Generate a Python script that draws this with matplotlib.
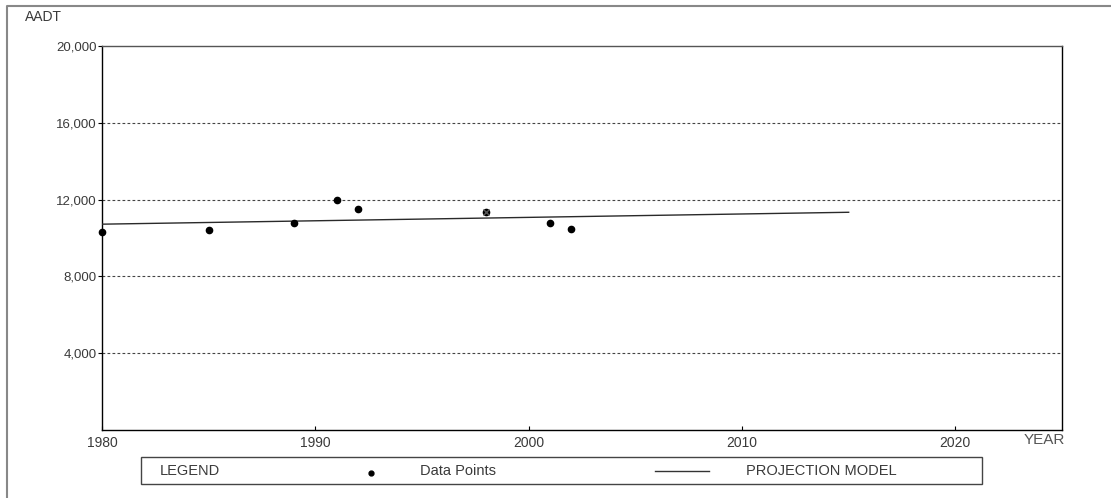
import matplotlib.pyplot as plt
from matplotlib.lines import Line2D
from matplotlib.patches import Rectangle

plt.rcParams['font.family'] = ['Liberation Sans', 'DejaVu Sans']

# observed counts
years = [1980, 1985, 1989, 1991, 1992, 1998, 2001, 2002]
aadt = [10290, 10440, 10800, 12000, 11530, 11370, 10800, 10490]
flagged_years = [1998]
flagged_aadt = [11370]

# projection model end points
proj_years = [1980, 2015]
proj_aadt = [10720, 11340]

y_ticks = [4000, 8000, 12000, 16000, 20000]
y_labels = ['4,000', '8,000', '12,000', '16,000', '20,000']
x_ticks = [1980, 1990, 2000, 2010, 2020]

W, H = 1111, 498
fig = plt.figure(figsize=(W / 100, H / 100), dpi=100)
ax = fig.add_axes([102 / W, 1 - 430 / H, 960 / W, 384 / H])

text_col = '#3a3a3a'

ax.plot(proj_years, proj_aadt, color='#2a2a2a', lw=1.0, zorder=3)
ax.plot(years, aadt, 'o', color='black', ms=4.5, zorder=4, clip_on=False)
ax.plot(flagged_years, flagged_aadt, 'x', color='#555555', ms=5, mew=1, zorder=5)

for yv in y_ticks[:-1]:
    ax.axhline(yv, color='#444444', lw=0.8, ls=(0, (2.5, 2)), zorder=1)

ax.set_xlim(1980, 2025)
ax.set_ylim(0, 20000)
ax.set_yticks(y_ticks)
ax.set_yticklabels(y_labels)
ax.set_xticks(x_ticks)
ax.set_xticklabels([str(x) for x in x_ticks])
ax.tick_params(axis='y', direction='out', length=3, width=0.8, pad=1,
               labelsize=9.5, labelcolor=text_col)
ax.tick_params(axis='x', direction='in', length=3, width=0.8, pad=4,
               labelsize=10, labelcolor=text_col)
for s in ax.spines.values():
    s.set_linewidth(1.0)
    s.set_color('black')
ax.spines['top'].set_color('#555555')

fig.text(25 / W, 1 - 17 / H, 'AADT', fontsize=10, color=text_col,
         ha='left', va='center')
fig.text(1024 / W, 1 - 440 / H, 'YEAR', fontsize=11, color='#555555',
         ha='left', va='center')

# outer frame (only left and top visible)
fig.add_artist(Line2D([7 / W, 7 / W, 1.0], [0.0, 1 - 6 / H, 1 - 6 / H],
                      transform=fig.transFigure, color='#888888', lw=1.5))

# legend box
fig.add_artist(Rectangle((141 / W, 1 - 484 / H), 841 / W, 27 / H,
                         transform=fig.transFigure, fill=False,
                         edgecolor='#444444', lw=1.0))
ly = 1 - 471 / H
fig.text(160 / W, ly, 'LEGEND', fontsize=10.5, color=text_col, ha='left', va='center')
fig.add_artist(Line2D([371 / W], [1 - 473 / H], transform=fig.transFigure,
                      marker='o', color='black', ms=3.5, ls='none'))
fig.text(420 / W, ly, 'Data Points', fontsize=10.5, color=text_col, ha='left', va='center')
fig.add_artist(Line2D([655 / W, 709 / W], [ly, ly], transform=fig.transFigure,
                      color='#333333', lw=1.0))
fig.text(746 / W, ly, 'PROJECTION MODEL', fontsize=10.5, color=text_col,
         ha='left', va='center')

fig.savefig('out.png', dpi=100, facecolor='white')
